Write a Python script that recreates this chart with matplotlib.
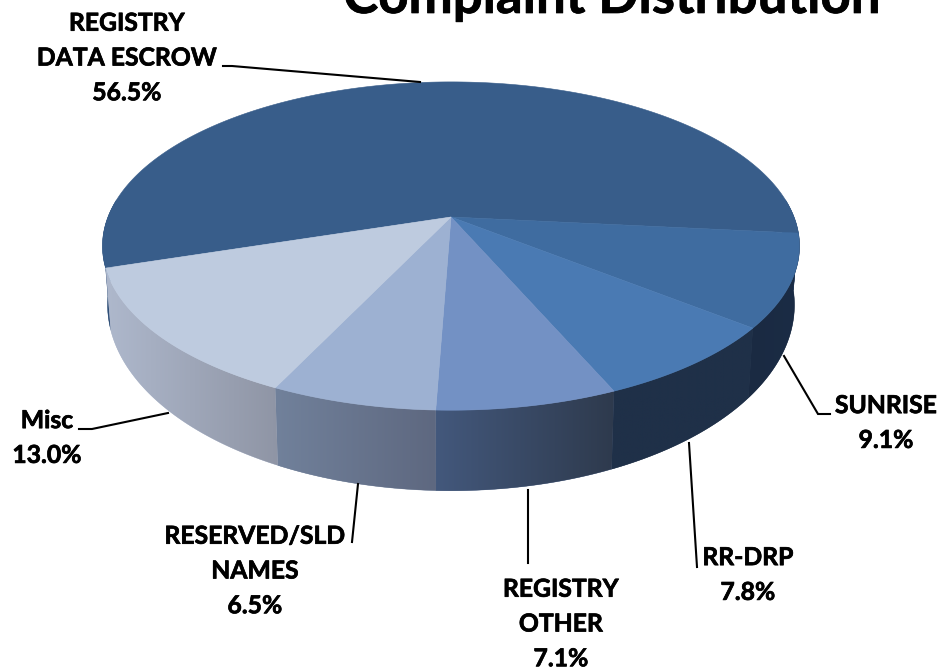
import numpy as np
import matplotlib
matplotlib.use('Agg')
import matplotlib.pyplot as plt
import matplotlib.patheffects as pe
from matplotlib.patches import PathPatch
from matplotlib.path import Path

plt.rcParams['font.family'] = ['Lato', 'DejaVu Sans']

categories = ['REGISTRY\nDATA ESCROW', 'SUNRISE', 'RR-DRP', 'REGISTRY\nOTHER', 'RESERVED/SLD\nNAMES', 'Misc']
values = [56.5, 9.1, 7.8, 7.1, 6.5, 13.0]
top_colors = ['#385D8A', '#3F6CA0', '#4A7AB3', '#7391C4', '#9DB1D2', '#BECBDF']
side_left = ['#2F4F78', '#1A2A42', '#1F3048', '#43587C', '#71819B', '#AEB8CC']
side_right = ['#2F4F78', '#1B2C45', '#1F3048', '#2E3A4D', '#5E6880', '#8F95A5']
label_xy = [(127, 58), (886, 423), (748, 575), (561, 624), (255, 571), (47, 438)]
leaders = [
    [(223, 66), (232, 66), (420, 82)],
    [(784, 356), (818, 414), (830, 414)],
    [(689, 443), (697, 567)],
    [(528, 490), (528, 563)],
    [(358, 484), (352, 542)],
    [(79, 429), (92, 429), (168, 413)],
]
start_angle = 197.7  # degrees, goes clockwise

cx, cy = 451, 217
k = 0.177


def top_pt(t):
    x, y = np.cos(t), np.sin(t)
    s = 1 / (1 + k * y)
    return cx + 343 * x * s, cy - 159 * y * s


def bottom_pt(t):
    x, y = np.cos(t), np.sin(t)
    s = 1 / (1 + k * y)
    return cx + 338 * x * s, cy + 55 - 180 * y * s


fig = plt.figure(figsize=(9.42, 6.69), dpi=100)
ax = fig.add_axes([0, 0, 1, 1])

angles = np.radians(start_angle - np.concatenate([[0], np.cumsum(values)]) * 3.6)

# sides first, then the top faces over them
for i in range(len(values)):
    t = np.linspace(angles[i], angles[i + 1], 120)
    # only the part of the rim facing the viewer
    t = t[np.sin(t) < 0.12]
    runs = np.split(t, np.where(np.diff(t) < -0.2)[0] + 1)
    for run in runs:
        if len(run) < 2:
            continue
        tx, ty = top_pt(run)
        bx, by = bottom_pt(run)
        verts = np.column_stack([np.r_[tx, bx[::-1]], np.r_[ty, by[::-1]]])
        path = Path(np.vstack([verts, verts[0]]), closed=True)
        patch = PathPatch(path, fc=side_left[i], ec=side_left[i], lw=0.3)
        ax.add_patch(patch)
        c1 = np.array(matplotlib.colors.to_rgb(side_left[i]))
        c2 = np.array(matplotlib.colors.to_rgb(side_right[i]))
        grad = np.linspace(0, 1, 128)[None, :, None]
        img = c1[None, None, :] * (1 - grad) + c2[None, None, :] * grad
        im = ax.imshow(img, extent=[verts[:, 0].min(), verts[:, 0].max(), verts[:, 1].max(), verts[:, 1].min()],
                       aspect='auto', zorder=1.5)
        im.set_clip_path(patch)

for i in range(len(values)):
    t = np.linspace(angles[i], angles[i + 1], 240)
    tx, ty = top_pt(t)
    verts = np.column_stack([np.r_[cx, tx, cx], np.r_[cy, ty, cy]])
    ax.add_patch(PathPatch(Path(verts, closed=True), fc=top_colors[i], ec=top_colors[i], lw=0.4, zorder=3))

for pts in leaders:
    xs, ys = zip(*pts)
    ax.plot(xs, ys, color='black', lw=1.5, zorder=4, solid_joinstyle='miter')

heavy = [pe.withStroke(linewidth=0.5, foreground='black')]
for name, v, (lx, ly) in zip(categories, values, label_xy):
    ax.text(lx, ly, name + '\n' + f'{v:.1f}%', ha='center', va='center', fontsize=17.8,
            fontweight='bold', color='black', linespacing=1.62, zorder=5, path_effects=heavy)

ax.text(612, 13, 'Complaint Distribution', ha='center', va='baseline', fontsize=38,
        fontweight='bold', color='black', zorder=5, path_effects=heavy)

ax.set_xlim(0, 942)
ax.set_ylim(669, 0)
ax.axis('off')
fig.savefig('out.png', dpi=100, facecolor='white')
